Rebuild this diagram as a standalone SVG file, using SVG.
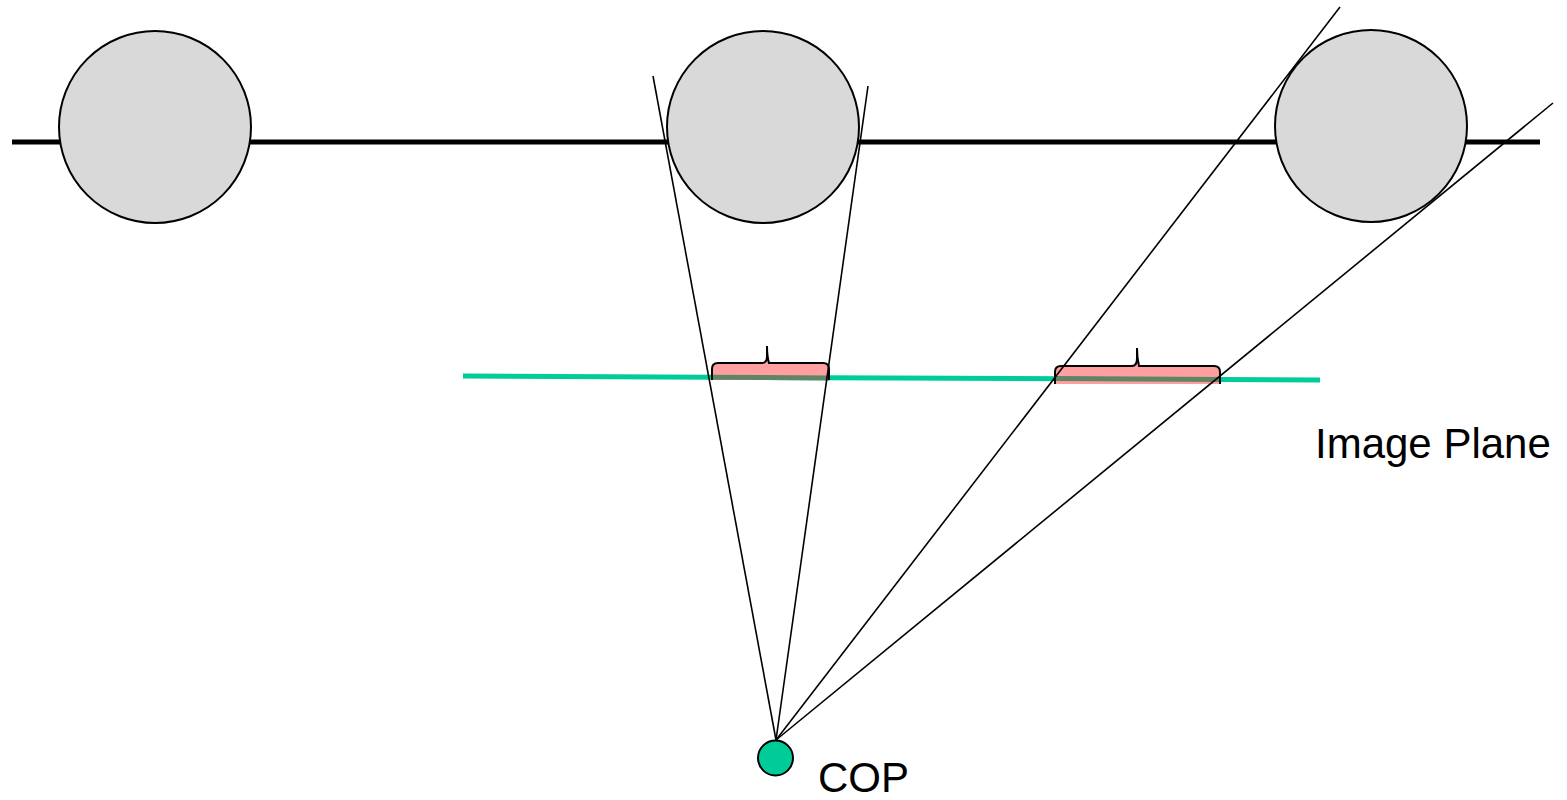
<svg xmlns="http://www.w3.org/2000/svg" width="1567" height="800" viewBox="0 0 1567 800">
<style>
.ball{fill:#d9d9d9;stroke:#000;stroke-width:2}
.ray{stroke:#000;stroke-width:1.6;fill:none}
.bfill{fill:#ff9f9f;stroke:none}
.bline{fill:none;stroke:#000;stroke-width:2}
.lbl{font-family:"Liberation Sans",Arial,sans-serif;font-size:42px;fill:#000}
</style>
<rect width="1567" height="800" fill="#fff"/>
<g id="track"><line x1="12" y1="142" x2="1540" y2="142" stroke="#000" stroke-width="5"/></g>
<g id="ball1"><circle class="ball" cx="155" cy="127" r="96"/></g>
<g id="ball2"><circle class="ball" cx="763" cy="127" r="96"/></g>
<g id="ball3"><circle class="ball" cx="1371" cy="126" r="96"/></g>
<g id="image-plane">
<line x1="463" y1="376" x2="1320" y2="380" stroke="#00cc99" stroke-width="5"/>
</g>
<g id="brace1">
<path class="bfill" d="M712,380 L712,369 Q712,363 718,363 L762,363 Q767,363 767,356 L767,346 Q767,356 769,363 L823,363 Q829,363 829,369 L829,380 Z"/>
<line x1="712" y1="377.3" x2="829" y2="377.9" stroke="#5e8664" stroke-width="5"/>
<path class="bline" d="M712,380 L712,369 Q712,363 718,363 L762,363 Q767,363 767,356 L767,346 Q767,356 769,363 L823,363 Q829,363 829,369 L829,380"/>
</g>
<g id="brace2">
<path class="bfill" d="M1055,384 L1055,372 Q1055,366 1061,366 L1132,366 Q1137,366 1137,358 L1137,348 Q1137,358 1139,366 L1214,366 Q1220,366 1220,372 L1220,384 Z"/>
<line x1="1055" y1="378.6" x2="1220" y2="379.4" stroke="#5e8664" stroke-width="5"/>
<path class="bline" d="M1055,384 L1055,372 Q1055,366 1061,366 L1132,366 Q1137,366 1137,358 L1137,348 Q1137,358 1139,366 L1214,366 Q1220,366 1220,372 L1220,384"/>
</g>
<g id="connectors">
<line class="ray" x1="776" y1="740" x2="653" y2="76"/>
<line class="ray" x1="776" y1="740" x2="868" y2="86"/>
<line class="ray" x1="776" y1="740" x2="1340" y2="7"/>
<line class="ray" x1="776" y1="740" x2="1553" y2="103"/>
</g>
<g id="cop"><circle cx="775.5" cy="758" r="17.5" fill="#00cc99" stroke="#000" stroke-width="2"/></g>
<g id="labels">
<text class="lbl" x="1315" y="458">Image Plane</text>
<text class="lbl" x="818" y="792">COP</text>
</g>
</svg>
